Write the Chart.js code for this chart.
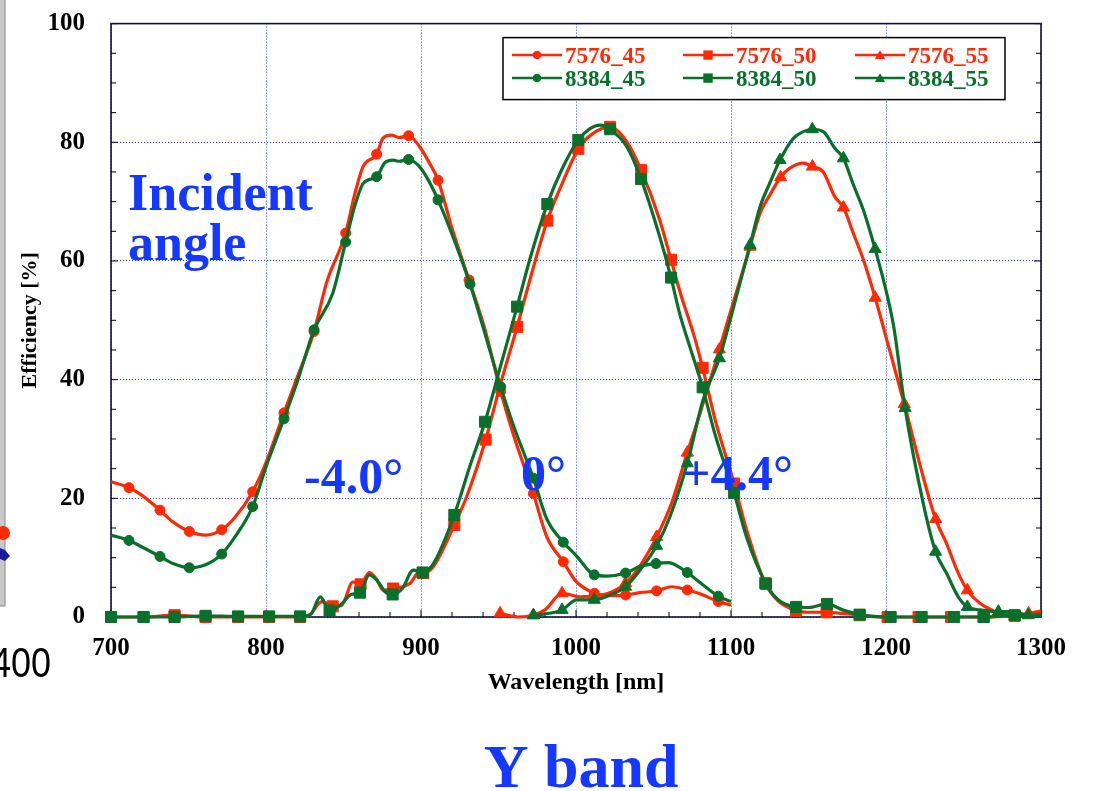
<!DOCTYPE html>
<html>
<head>
<meta charset="utf-8">
<script src="https://cdn.jsdelivr.net/npm/chart.js@4.4.1/dist/chart.umd.min.js"></script>
<style>
html,body{margin:0;padding:0;background:#fff;}
#wrap{position:relative;width:1093px;height:791px;}
</style>
</head>
<body>
<div id="wrap"><canvas id="c" width="1093" height="791"></canvas></div>
<script>
// ---- Data ----
const xTicks = [700, 800, 900, 1000, 1100, 1200, 1300];
const yTicks = [0, 20, 40, 60, 80, 100];
const seriesLabels = ['7576_45', '7576_50', '7576_55', '8384_45', '8384_50', '8384_55'];

const wl_7576_45 = [700, 711.6, 720, 731.6, 740, 750.5, 761, 771.4, 780, 791.4, 800, 811.6, 820, 831, 839, 851.4, 857, 862.6, 871.4, 875.5, 881, 886, 892, 899, 905, 911, 920, 931, 941, 951.4, 960, 972.5, 981, 991.8, 1000, 1011.8, 1020, 1032, 1041, 1052, 1061.7, 1071.8, 1080, 1091.8, 1100];
const ef_7576_45 = [22.8, 21.8, 20.5, 18.0, 16.0, 14.4, 13.8, 14.7, 16.8, 21.1, 26.0, 34.4, 40.3, 48.1, 56.3, 64.7, 71.0, 75.9, 78.0, 80.7, 81.2, 80.8, 81.1, 79.3, 76.7, 73.6, 65.5, 56.8, 48.7, 38.0, 30.4, 20.8, 13.6, 9.3, 6.0, 4.0, 3.6, 3.7, 4.1, 4.4, 5.1, 4.55, 3.9, 2.6, 2.0];
const mk_7576_45 = [711.6, 731.6, 750.5, 771.4, 791.4, 811.6, 831, 851.4, 871.4, 892, 911, 931, 951.4, 972.5, 991.8, 1011.8, 1032, 1052, 1071.8, 1091.8];

const wl_8384_45 = [700, 711.6, 720, 731.6, 740, 750.5, 761, 771.4, 780, 791.4, 800, 811.6, 820, 831, 843, 851.4, 857, 862.8, 871.4, 876.8, 882, 886, 892, 899, 905, 911, 920, 931.6, 941, 951.4, 960, 972.5, 981, 991.8, 1000, 1011.8, 1020, 1032, 1041, 1051.6, 1059.6, 1066, 1071.8, 1080, 1091.8, 1100];
const ef_8384_45 = [13.8, 12.9, 11.8, 10.2, 9.0, 8.3, 8.8, 10.6, 13.5, 18.6, 25.3, 33.4, 39.5, 48.4, 54.5, 63.2, 69.0, 73.1, 74.2, 76.6, 77.0, 76.8, 77.1, 75.9, 73.5, 70.3, 64.5, 56.1, 48.0, 38.8, 32.0, 23.4, 16.6, 12.6, 10.4, 7.1, 6.9, 7.4, 8.5, 9.0, 9.15, 8.5, 7.5, 5.8, 3.5, 2.6];
const mk_8384_45 = [711.6, 731.6, 750.5, 771.4, 791.4, 811.6, 831, 851.4, 871.4, 892, 911, 931.6, 951.4, 972.5, 991.8, 1011.8, 1032, 1051.6, 1071.8, 1091.8];

const wl_7576_50 = [700, 721, 741, 761, 782, 802, 822, 828, 836, 843, 849, 856, 861, 866.6, 871, 875.7, 882, 893, 899, 901.5, 908, 921.5, 929.5, 941.7, 951, 962, 971, 981.5, 991, 1001.5, 1011, 1022, 1032.7, 1042, 1054, 1061.3, 1068, 1075.7, 1081.7, 1090, 1102, 1110, 1122, 1130, 1142, 1150, 1161.7, 1172, 1183, 1190, 1201, 1221, 1242, 1263, 1283, 1300];
const ef_7576_50 = [0, 0, 0.3, 0, 0, 0, 0, 0.3, 2.6, 1.8, 2.0, 5.9, 5.5, 7.5, 6.5, 4.5, 4.8, 5.7, 7.6, 7.4, 8.5, 15.5, 20.3, 29.9, 39.0, 48.9, 57.5, 66.8, 73.0, 78.9, 81.5, 82.6, 80.1, 75.3, 66.9, 60.2, 54.0, 47.8, 42.0, 33.0, 22.5, 14.7, 5.7, 2.8, 1.06, 0.8, 0.8, 0.6, 0.3, 0.1, 0, 0, 0, 0, 0.2, 0.3];
const mk_7576_50 = [700, 721, 741, 761, 782, 802, 822, 843, 861, 882, 901.5, 921.5, 941.7, 962, 981.5, 1001.5, 1022, 1042, 1061.3, 1081.7, 1102, 1122, 1142, 1161.7, 1183, 1201, 1221, 1242, 1263, 1283];

const wl_8384_50 = [700, 721, 741, 761, 782, 802, 822, 829, 835, 841, 848, 855, 860.6, 866.6, 872.5, 877, 881.7, 888, 895, 901, 908, 921.5, 931, 941.3, 951, 962, 971, 981.5, 991, 1001.5, 1009, 1015.5, 1022, 1032.7, 1042, 1054, 1061.3, 1067, 1073.5, 1081.7, 1090, 1102, 1110, 1122.6, 1130, 1142, 1150, 1162, 1172, 1183, 1192, 1203, 1223, 1244, 1263, 1283, 1300];
const ef_8384_50 = [0, 0, 0, 0.2, 0.1, 0.1, 0.1, 0.5, 3.4, 1.1, 2.0, 3.8, 4.1, 7.1, 5.9, 4.2, 3.8, 4.8, 7.9, 7.5, 9.0, 17.2, 25.0, 32.9, 42.0, 52.3, 61.0, 69.6, 75.5, 80.4, 82.3, 82.9, 82.2, 79.3, 73.8, 64.1, 57.2, 51.0, 45.5, 38.7, 30.5, 20.9, 13.5, 5.6, 3.0, 1.7, 1.6, 2.2, 1.2, 0.4, 0.1, 0, 0, 0, 0, 0.3, 0.2];
const mk_8384_50 = [700, 721, 741, 761, 782, 802, 822, 841, 860.6, 881.7, 901, 921.5, 941.3, 962, 981.5, 1001.5, 1022, 1042, 1061.3, 1081.7, 1102, 1122.6, 1142, 1162, 1183, 1203, 1223, 1244, 1263, 1283];

const wl_7576_55 = [951, 963, 972.5, 980, 991, 1002.6, 1011.8, 1020, 1032, 1041, 1052, 1061.7, 1071.8, 1080, 1092.5, 1099.4, 1112.3, 1118.7, 1125, 1132, 1137.7, 1146.6, 1152.5, 1159.5, 1167, 1172.5, 1179, 1185.4, 1193, 1200.5, 1211.8, 1224, 1232, 1239, 1246.6, 1252.5, 1260.6, 1269, 1272.5, 1284, 1292, 1300];
const ef_7576_55 = [0.6, 0, 0.3, 1.2, 4.0, 3.4, 3.6, 3.9, 5.7, 8.5, 13.5, 19.2, 27.7, 34.3, 45.1, 51.2, 62.4, 68.0, 71.1, 74.1, 75.6, 76.5, 75.9, 75.0, 70.8, 69.0, 64.6, 60.2, 53.8, 46.7, 35.9, 23.6, 16.5, 12.4, 7.4, 4.5, 2.3, 1.06, 0.7, 0.3, 0.6, 1.0];
const mk_7576_55 = [951, 972.5, 991, 1011.8, 1032, 1052, 1071.8, 1092.5, 1112.3, 1132, 1152.5, 1172.5, 1193, 1211.8, 1232, 1252.5, 1272.5, 1292];

const wl_8384_55 = [972.5, 980, 991, 1000.4, 1011.8, 1020, 1032, 1041, 1052, 1060.6, 1071.8, 1082, 1092.5, 1099.4, 1112.3, 1118.7, 1125, 1131.6, 1140, 1146.6, 1152.5, 1159.5, 1167, 1172.5, 1179, 1185.4, 1193, 1200.5, 1205, 1212.3, 1224, 1232, 1239, 1246.6, 1252.5, 1260.6, 1272.5, 1282, 1291.8, 1300];
const ef_8384_55 = [0.3, 0.5, 1.2, 2.9, 2.9, 3.5, 5.1, 7.8, 12.0, 16.9, 25.9, 36.6, 43.6, 50.0, 62.7, 69.1, 73.1, 77.0, 80.6, 81.8, 82.2, 81.8, 79.0, 77.3, 72.8, 68.6, 62.0, 54.5, 48.9, 35.2, 19.2, 11.0, 7.4, 3.4, 1.7, 1.2, 0.9, 0.9, 0.3, 0.5];
const mk_8384_55 = [972.5, 991, 1011.8, 1032, 1052, 1071.8, 1092.5, 1112.3, 1131.6, 1152.5, 1172.5, 1193, 1212.3, 1232, 1252.5, 1272.5, 1291.8];

// ---- Styles ----
const RED = '#ff2a05';
const GREEN = '#08702a';
const BLUE = '#1438ff';
const SERIF = "'Liberation Serif', 'Times New Roman', Times, serif";

function pts(xs, ys) { return xs.map((x, i) => ({x: x, y: ys[i]})); }

const markerRadius = {circle: 5, rect: 7.8, triangle: 7};

function mkDataset(label, xs, ys, marks, color, style, order) {
  const r = markerRadius[style];
  return {
    label: label,
    data: pts(xs, ys),
    borderColor: color,
    backgroundColor: color,
    borderWidth: 3.2,
    pointStyle: style,
    pointRadius: (ctx) => (ctx.raw && marks.includes(ctx.raw.x)) ? r : 0,
    pointHoverRadius: (ctx) => (ctx.raw && marks.includes(ctx.raw.x)) ? r : 0,
    pointBorderWidth: 1,
    pointBorderColor: color,
    pointBackgroundColor: color,
    cubicInterpolationMode: 'monotone',
    clip: false,
    order: order,
    mkStyle: style
  };
}

const datasets = [
  mkDataset(seriesLabels[0], wl_7576_45, ef_7576_45, mk_7576_45, RED, 'circle', 1),
  mkDataset(seriesLabels[1], wl_7576_50, ef_7576_50, mk_7576_50, RED, 'rect', 1),
  mkDataset(seriesLabels[2], wl_7576_55, ef_7576_55, mk_7576_55, RED, 'triangle', 1),
  mkDataset(seriesLabels[3], wl_8384_45, ef_8384_45, mk_8384_45, GREEN, 'circle', 0),
  mkDataset(seriesLabels[4], wl_8384_50, ef_8384_50, mk_8384_50, GREEN, 'rect', 0),
  mkDataset(seriesLabels[5], wl_8384_55, ef_8384_55, mk_8384_55, GREEN, 'triangle', 0)
];

function drawMarker(ctx, style, x, y, r) {
  ctx.beginPath();
  if (style === 'circle') {
    ctx.arc(x, y, r, 0, Math.PI * 2);
  } else if (style === 'rect') {
    const s = r * Math.SQRT1_2;
    ctx.rect(x - s, y - s, 2 * s, 2 * s);
  } else {
    const h = r;
    ctx.moveTo(x, y - h);
    ctx.lineTo(x + h * Math.cos(Math.PI / 6), y + h * 0.5);
    ctx.lineTo(x - h * Math.cos(Math.PI / 6), y + h * 0.5);
    ctx.closePath();
  }
  ctx.fill();
}

// Frame + inward minor/major ticks
const framePlugin = {
  id: 'frame',
  beforeDatasetsDraw(chart) {
    const {ctx, chartArea: a, scales} = chart;
    ctx.save();
    ctx.strokeStyle = '#000';
    ctx.lineWidth = 1;
    for (let v = 0; v <= 100; v += 5) {
      const y = scales.y.getPixelForValue(v);
      const len = (v % 20 === 0) ? 7 : 5;
      ctx.beginPath();
      ctx.moveTo(a.left, y); ctx.lineTo(a.left + len, y);
      ctx.moveTo(a.right, y); ctx.lineTo(a.right - len, y);
      ctx.stroke();
    }
    for (let v = 700; v <= 1300; v += 20) {
      const x = scales.x.getPixelForValue(v);
      const len = (v % 100 === 0) ? 7 : 5;
      ctx.beginPath();
      ctx.moveTo(x, a.bottom); ctx.lineTo(x, a.bottom - len);
      ctx.stroke();
    }
    ctx.lineWidth = 1.6;
    ctx.strokeStyle = '#101030';
    ctx.strokeRect(a.left, a.top, a.right - a.left, a.bottom - a.top);
    ctx.restore();
  }
};

// Legend box inside plot area, built from datasets
const legendPlugin = {
  id: 'boxLegend',
  afterDatasetsDraw(chart) {
    const {ctx, chartArea: a} = chart;
    const bx = a.right - 538, by = a.top + 14, bw = 502, bh = 62;
    ctx.save();
    ctx.fillStyle = '#fff';
    ctx.fillRect(bx, by, bw, bh);
    ctx.strokeStyle = '#000';
    ctx.lineWidth = 1.5;
    ctx.strokeRect(bx, by, bw, bh);
    const colX = [bx + 9, bx + 180, bx + 352];
    const rowY = [by + 17.5, by + 40.5];
    ctx.font = 'bold 23px ' + SERIF;
    ctx.textBaseline = 'alphabetic';
    chart.data.datasets.forEach((ds, i) => {
      const col = i % 3, row = Math.floor(i / 3);
      const x0 = colX[col], y = rowY[row];
      ctx.strokeStyle = ds.borderColor;
      ctx.fillStyle = ds.borderColor;
      ctx.lineWidth = 2.5;
      ctx.beginPath();
      ctx.moveTo(x0, y); ctx.lineTo(x0 + 50, y);
      ctx.stroke();
      drawMarker(ctx, ds.mkStyle, x0 + 25, y + (ds.mkStyle === 'triangle' ? 1 : 0), markerRadius[ds.mkStyle] * 0.85);
      ctx.fillText(ds.label, x0 + 53, y + 8);
    });
    ctx.restore();
  }
};

// Annotations (text)
const textPlugin = {
  id: 'annotations',
  afterDraw(chart) {
    const {ctx} = chart;
    ctx.save();
    ctx.fillStyle = BLUE;
    ctx.textBaseline = 'alphabetic';
    ctx.textAlign = 'left';
    ctx.font = 'bold 52px ' + SERIF;
    ctx.fillText('Incident', 128, 210);
    ctx.fillText('angle', 128, 260);
    ctx.font = 'bold 50px ' + SERIF;
    ctx.fillText('-4.0°', 304, 493);
    ctx.fillText('0°', 521, 490);
    ctx.fillText('+4.4°', 682, 490);
    ctx.font = 'bold 62px ' + SERIF;
    ctx.textAlign = 'center';
    ctx.fillText('Y band', 581, 787);
    // cropped neighbour panel at the far left
    ctx.fillStyle = '#c8c8c8';
    ctx.fillRect(0, 0, 5, 606);
    ctx.strokeStyle = '#8a8a8a';
    ctx.lineWidth = 1;
    ctx.beginPath(); ctx.moveTo(5, 0); ctx.lineTo(5, 606); ctx.lineTo(0, 606); ctx.stroke();
    ctx.fillStyle = '#ff2a05';
    ctx.beginPath(); ctx.arc(3, 533, 7, 0, Math.PI * 2); ctx.fill();
    ctx.fillStyle = '#1a1aa0';
    ctx.beginPath(); ctx.moveTo(0, 548); ctx.lineTo(5, 550); ctx.lineTo(10, 556); ctx.lineTo(5, 561); ctx.lineTo(0, 559); ctx.closePath(); ctx.fill();
    ctx.fillStyle = '#000';
    ctx.textAlign = 'right';
    ctx.translate(51, 677);
    ctx.scale(1, 1.2);
    ctx.font = '36px "Liberation Sans", Arial, sans-serif';
    ctx.fillText('400', 0, 0);
    ctx.restore();
  }
};

new Chart(document.getElementById('c'), {
  type: 'line',
  data: {datasets: datasets},
  options: {
    responsive: false,
    animation: false,
    events: [],
    layout: {padding: {left: 0, top: 23.6, right: 52, bottom: 94}},
    plugins: {legend: {display: false}, tooltip: {enabled: false}},
    scales: {
      x: {
        type: 'linear',
        min: 700, max: 1300,
        afterBuildTicks: (s) => { s.ticks = xTicks.map(v => ({value: v})); },
        afterFit: (s) => { s.height = 80; s.paddingLeft = 0; s.paddingRight = 0; },
        grid: {color: '#2447f0', lineWidth: 1, drawTicks: false, borderDash: [1, 2]},
        border: {display: false, dash: [1, 2]},
        ticks: {color: '#000', padding: 17, maxRotation: 0, callback: (v) => String(v), font: {family: SERIF, size: 25, weight: 'bold'}},
        title: {display: true, text: 'Wavelength [nm]', color: '#000', padding: {top: 0, bottom: 0}, font: {family: SERIF, size: 24, weight: 'bold'}}
      },
      y: {
        type: 'linear',
        min: 0, max: 100,
        afterBuildTicks: (s) => { s.ticks = yTicks.map(v => ({value: v})); },
        afterFit: (s) => { s.width = 111; s.paddingTop = 0; s.paddingBottom = 0; },
        grid: {color: '#2447f0', lineWidth: 1, drawTicks: false, borderDash: [1, 2]},
        border: {display: false, dash: [1, 2]},
        ticks: {color: '#000', padding: 26, callback: (v) => String(v), font: {family: SERIF, size: 25, weight: 'bold'}},
        title: {display: true, text: 'Efficiency [%]', color: '#000', padding: {top: 17, bottom: 0}, font: {family: SERIF, size: 22, weight: 'bold'}}
      }
    }
  },
  plugins: [framePlugin, legendPlugin, textPlugin]
});
</script>
</body>
</html>
